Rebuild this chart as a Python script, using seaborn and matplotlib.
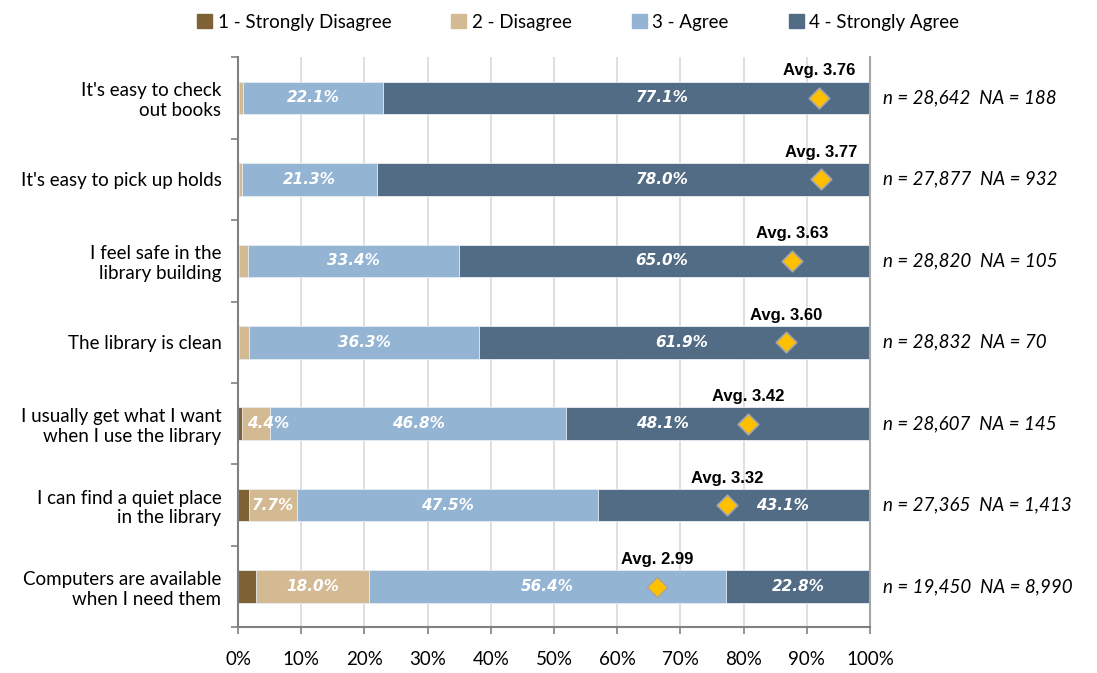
import pandas as pd
import matplotlib.pyplot as plt
import seaborn as sns
import numpy as np
from matplotlib.patches import Patch
from matplotlib.ticker import MultipleLocator, FixedLocator, PercentFormatter

# Survey data
categories = [
    "It's easy to check\nout books",
    "It's easy to pick up holds",
    "I feel safe in the\nlibrary building",
    "The library is clean",
    "I usually get what I want\nwhen I use the library",
    "I can find a quiet place\nin the library",
    "Computers are available\nwhen I need them",
]
strongly_disagree = [0.1, 0.1, 0.2, 0.2, 0.7, 1.7, 2.8]
disagree = [0.7, 0.6, 1.4, 1.6, 4.4, 7.7, 18.0]
agree = [22.1, 21.3, 33.4, 36.3, 46.8, 47.5, 56.4]
strongly_agree = [77.1, 78.0, 65.0, 61.9, 48.1, 43.1, 22.8]
averages = [3.76, 3.77, 3.63, 3.60, 3.42, 3.32, 2.99]
n_counts = ["28,642", "27,877", "28,820", "28,832", "28,607", "27,365", "19,450"]
na_counts = ["188", "932", "105", "70", "145", "1,413", "8,990"]

series_names = ["1 - Strongly Disagree", "2 - Disagree", "3 - Agree", "4 - Strongly Agree"]
colors = ["#7F6136", "#D4BA93", "#94B4D3", "#526C85"]

df = pd.DataFrame({
    "question": categories,
    "sd": strongly_disagree,
    "d": disagree,
    "a": agree,
    "sa": strongly_agree,
    "avg": averages,
})
df["c1"] = df["sd"]
df["c2"] = df["c1"] + df["d"]
df["c3"] = df["c2"] + df["a"]
df["c4"] = df["c3"] + df["sa"]
# average on a 1-4 scale mapped onto the 0-100% axis
df["avg_pos"] = (df["avg"] - 1) / 3 * 100

plt.rcParams["font.family"] = ["Lato", "DejaVu Sans"]

fig = plt.figure(figsize=(10.97, 6.73), dpi=100)
ax = fig.add_axes([0.217, 0.068, 0.576, 0.847])

# stacked bars drawn back to front
for col, color in zip(["c4", "c3", "c2", "c1"], colors[::-1]):
    sns.barplot(data=df, x=col, y="question", color=color, width=0.4, saturation=1,
                ax=ax, orient="h", zorder=2, linewidth=0.6, edgecolor="#E8EEF4")

sns.scatterplot(data=df, x="avg_pos", y="question", marker="D", s=110,
                color="#FFC000", edgecolor="#A6A6A6", linewidth=1.2, zorder=4, ax=ax)

# label positions (shifted where the diamond sits in the middle)
d_label_x = {4: 4.8}
sa_label_x = {0: 67.1, 1: 67.1, 2: 67.1, 3: 70.2, 4: 67.1, 5: 86.2}

lab_kw = dict(color="white", fontsize=11, fontweight="bold", fontstyle="italic",
              family="DejaVu Sans", ha="center", va="center", zorder=5)
for i, row in df.iterrows():
    if row["d"] >= 4:
        ax.text(d_label_x.get(i, (row["c1"] + row["c2"]) / 2), i, f"{row['d']:.1f}%", **lab_kw)
    ax.text((row["c2"] + row["c3"]) / 2, i, f"{row['a']:.1f}%", **lab_kw)
    ax.text(sa_label_x.get(i, (row["c3"] + row["c4"]) / 2), i, f"{row['sa']:.1f}%", **lab_kw)
    ax.text(row["avg_pos"], i - 0.24, f"Avg. {row['avg']:.2f}", ha="center", va="bottom",
            fontsize=12, fontweight="bold", color="black", family="Liberation Sans", zorder=5)
    ax.text(102, i, f"n = {n_counts[i]}  NA = {na_counts[i]}", ha="left", va="center",
            fontsize=13.5, fontstyle="italic", color="black", clip_on=False)

ax.set_xlim(0, 100)
ax.set_ylim(6.5, -0.5)
ax.set_xlabel("")
ax.set_ylabel("")
ax.xaxis.set_major_locator(MultipleLocator(10))
ax.xaxis.set_major_formatter(PercentFormatter(decimals=0))
ax.grid(axis="x", color="#D9D9D9", linewidth=1.2, zorder=0)
ax.set_axisbelow(True)

ax.yaxis.set_minor_locator(FixedLocator(np.arange(-0.5, 7, 1)))
ax.tick_params(axis="y", which="major", length=0, pad=12, labelsize=13.5)
ax.tick_params(axis="y", which="minor", length=5, color="#808080", width=1.2)
ax.tick_params(axis="x", length=5, color="#808080", width=1.2, pad=12, labelsize=13.5)
for lab in ax.get_yticklabels():
    lab.set_horizontalalignment("right")
    lab.set_multialignment("right")

for side in ["left", "bottom"]:
    ax.spines[side].set_color("#808080")
    ax.spines[side].set_linewidth(1.5)
ax.spines["right"].set_color("#A6A6A6")
ax.spines["right"].set_linewidth(1.5)
ax.spines["top"].set_visible(False)

handles = [Patch(facecolor=c, edgecolor=c) for c in colors]
fig.legend(handles, series_names, loc="upper center", bbox_to_anchor=(0.527, 1.005),
           ncol=4, frameon=False, fontsize=13.5, handlelength=0.8, handleheight=0.8,
           handletextpad=0.3, columnspacing=3.2)

fig.savefig("out.png", dpi=100)
